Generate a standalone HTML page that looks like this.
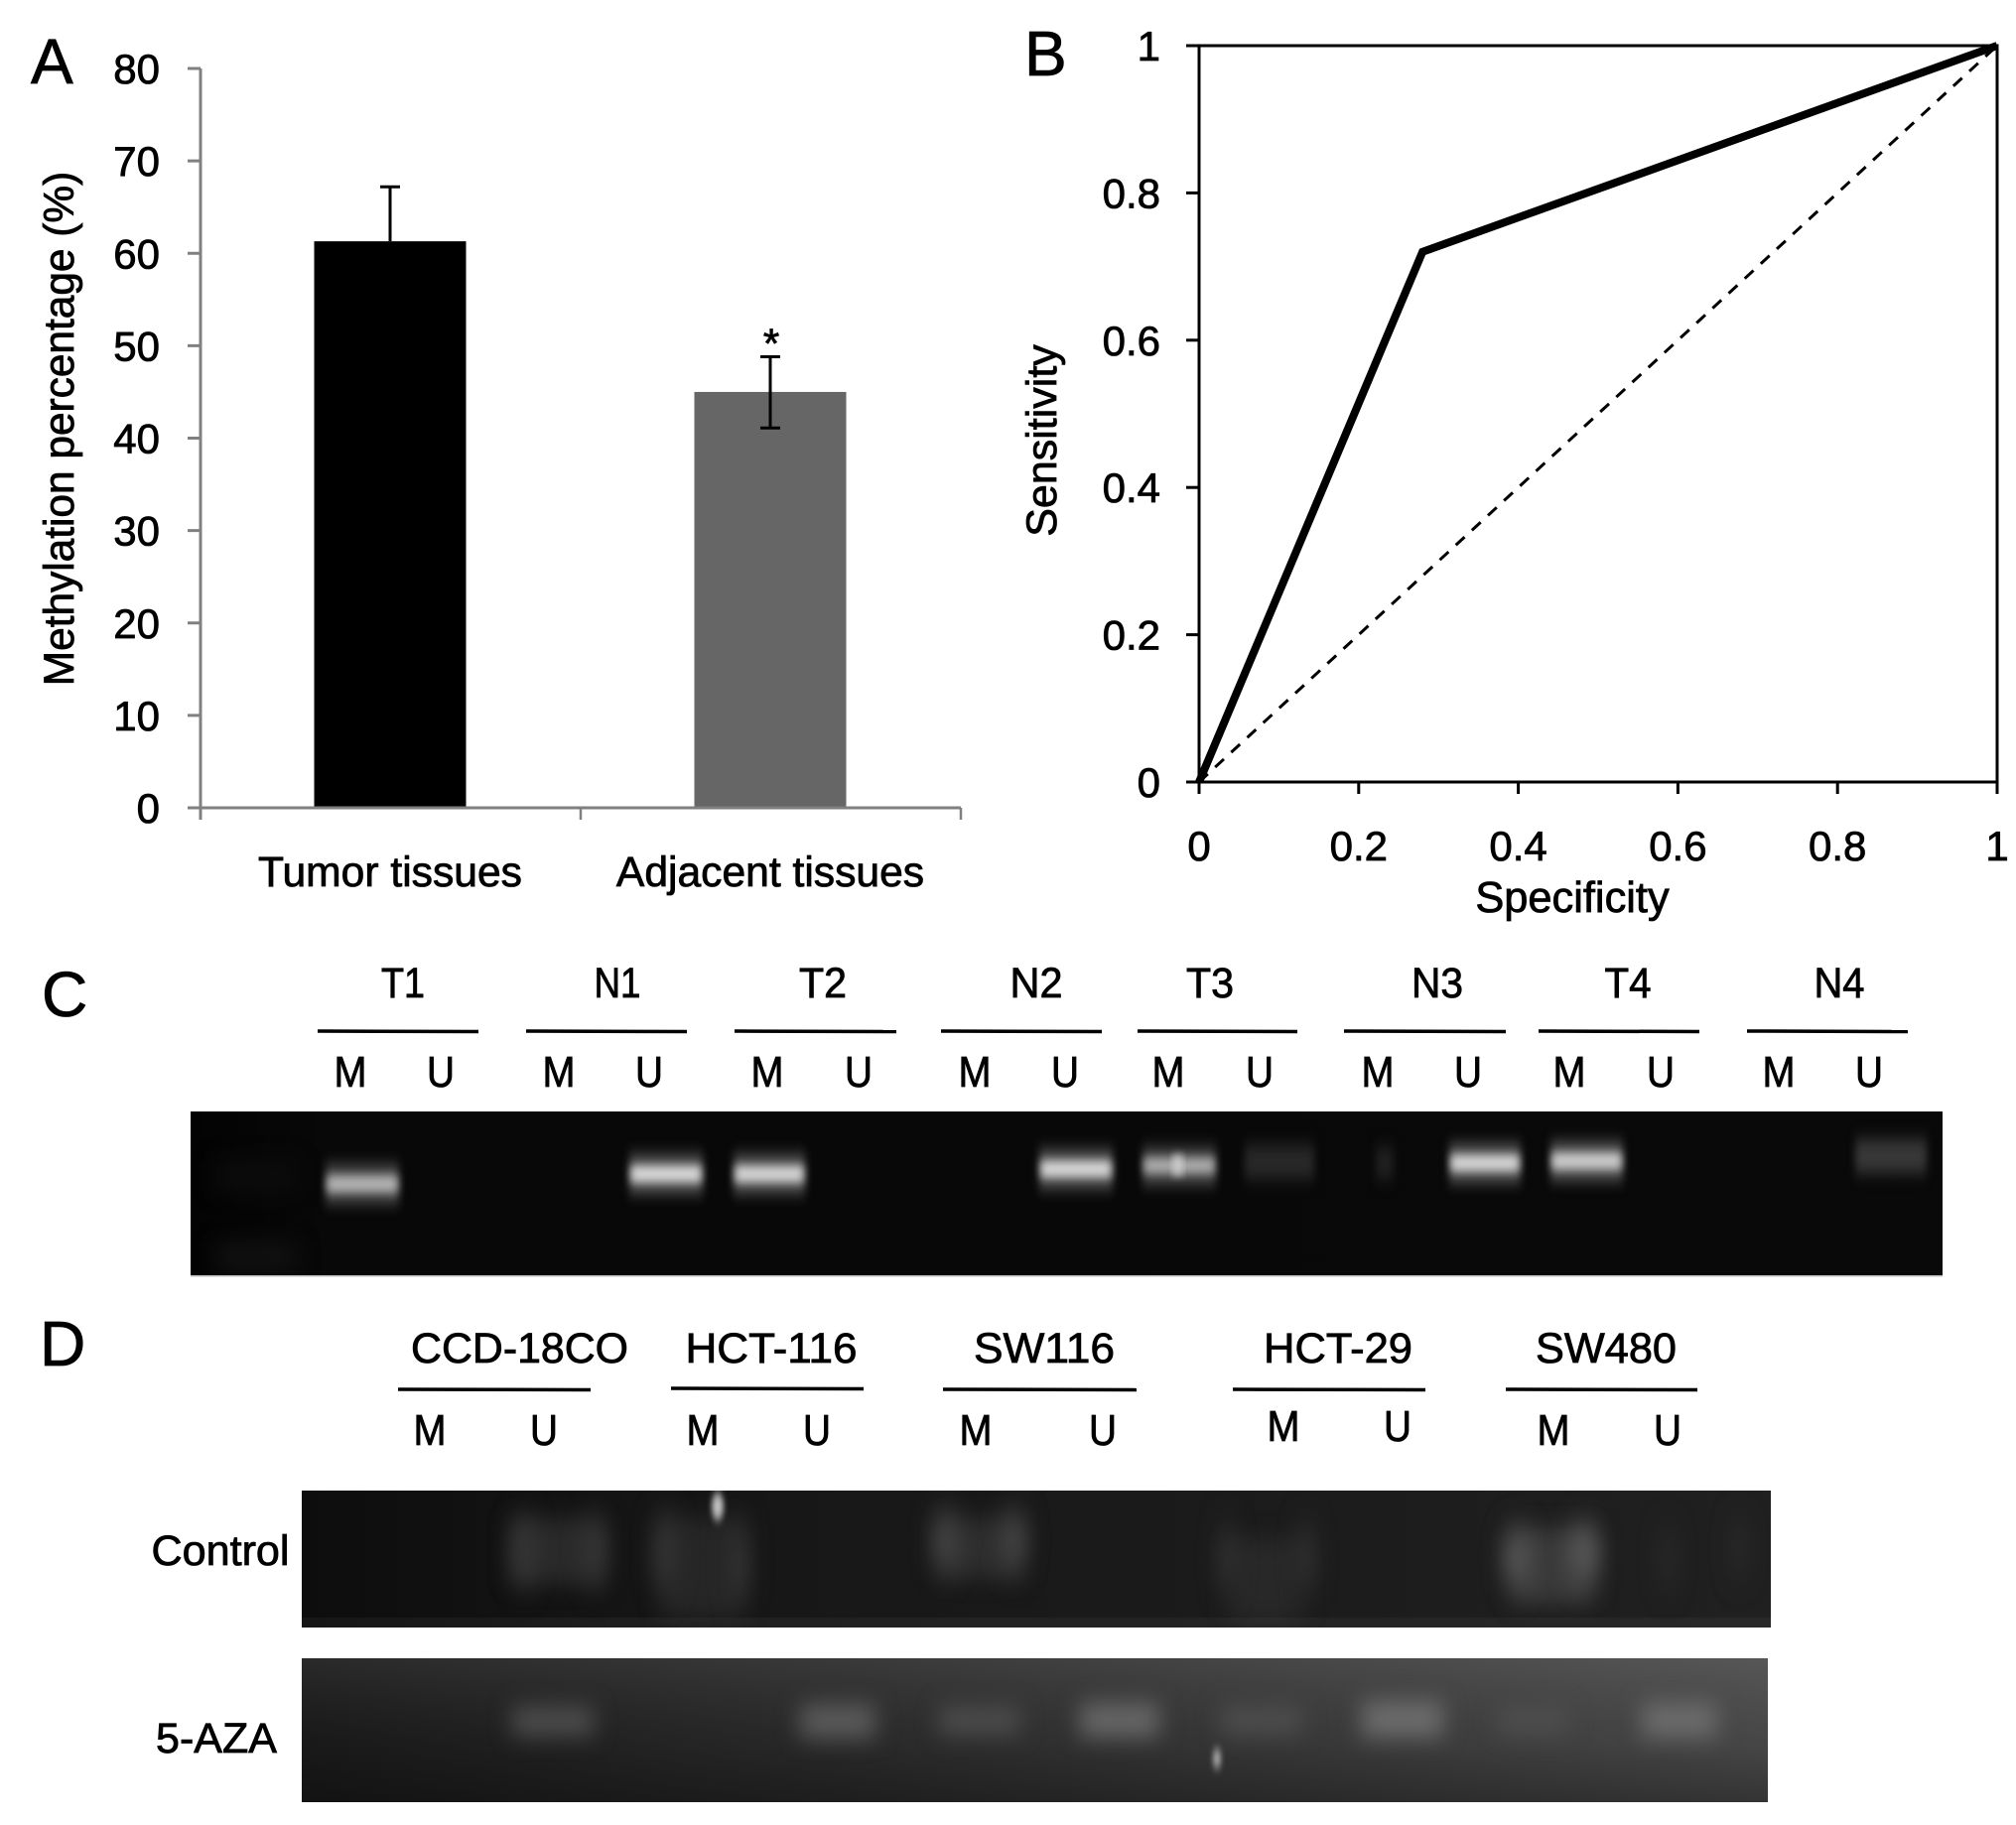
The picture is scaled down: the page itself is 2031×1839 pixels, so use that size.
<!DOCTYPE html>
<html lang="en">
<head>
<meta charset="utf-8">
<title>Methylation figure</title>
<style>
html,body{margin:0;padding:0;background:#fff;width:2031px;height:1839px;overflow:hidden}
svg{display:block}
text{font-family:"Liberation Sans",Arial,sans-serif;fill:#000;stroke:#000;stroke-width:0.8px}
</style>
</head>
<body>
<svg id="fig" xmlns="http://www.w3.org/2000/svg" width="2031" height="1839" viewBox="0 0 2031 1839">
<defs>
<filter id="halo" x="-40%" y="-150%" width="180%" height="400%" color-interpolation-filters="sRGB"><feGaussianBlur stdDeviation="4 8"/></filter>
<filter id="core" x="-40%" y="-200%" width="180%" height="500%" color-interpolation-filters="sRGB"><feGaussianBlur stdDeviation="4 4.5"/></filter>
<filter id="lobe" x="-400%" y="-150%" width="900%" height="400%" color-interpolation-filters="sRGB"><feGaussianBlur stdDeviation="11 17"/></filter>
<filter id="soft" x="-80%" y="-200%" width="260%" height="500%" color-interpolation-filters="sRGB"><feGaussianBlur stdDeviation="11 11"/></filter>
<filter id="spot" x="-300%" y="-150%" width="700%" height="400%" color-interpolation-filters="sRGB"><feGaussianBlur stdDeviation="2.6 5"/></filter>
<linearGradient id="gcbg" x1="0" y1="0" x2="1" y2="0">
<stop offset="0" stop-color="#030303"/><stop offset="0.08" stop-color="#080808"/><stop offset="1" stop-color="#090909"/>
</linearGradient>
<linearGradient id="g1bg" x1="0" y1="0" x2="1" y2="0">
<stop offset="0" stop-color="#0d0d0d"/><stop offset="0.25" stop-color="#161616"/><stop offset="1" stop-color="#202020"/>
</linearGradient>
<linearGradient id="g2h" x1="0" y1="0" x2="1" y2="0">
<stop offset="0" stop-color="#1a1a1a"/><stop offset="0.4" stop-color="#2c2c2c"/><stop offset="1" stop-color="#4a4a4a"/>
</linearGradient>
<linearGradient id="g2v" x1="0" y1="0" x2="0" y2="1">
<stop offset="0" stop-color="#fff" stop-opacity="0.07"/><stop offset="0.6" stop-color="#000" stop-opacity="0.05"/><stop offset="1" stop-color="#000" stop-opacity="0.3"/>
</linearGradient>
<clipPath id="clipC"><rect x="192" y="1120" width="1765" height="166"/></clipPath>
<clipPath id="clipD1"><rect x="304" y="1502" width="1480" height="138"/></clipPath>
<clipPath id="clipD2"><rect x="304" y="1671" width="1477" height="145"/></clipPath>
</defs>

<!-- panel letters -->
<text x="31" y="84" font-size="64">A</text>
<text x="1032" y="76" font-size="64">B</text>
<text x="42" y="1024" font-size="64">C</text>
<text x="40" y="1376" font-size="64">D</text>

<g id="chartA"></g>
<g id="chartB"></g>

<!-- panel C headings -->
<g font-size="43" text-anchor="middle">
<text x="406" y="1005" textLength="44" lengthAdjust="spacingAndGlyphs">T1</text>
<text x="622" y="1005" textLength="47" lengthAdjust="spacingAndGlyphs">N1</text>
<text x="829" y="1005" textLength="48" lengthAdjust="spacingAndGlyphs">T2</text>
<text x="1044" y="1005" textLength="53" lengthAdjust="spacingAndGlyphs">N2</text>
<text x="1219" y="1005" textLength="48" lengthAdjust="spacingAndGlyphs">T3</text>
<text x="1448" y="1005" textLength="52" lengthAdjust="spacingAndGlyphs">N3</text>
<text x="1640" y="1005" textLength="47" lengthAdjust="spacingAndGlyphs">T4</text>
<text x="1853" y="1005" textLength="51" lengthAdjust="spacingAndGlyphs">N4</text>
</g>
<g stroke="#000" stroke-width="3.5">
<line x1="320" y1="1039" x2="482" y2="1039.5"/>
<line x1="530" y1="1039" x2="692" y2="1039.5"/>
<line x1="740" y1="1039" x2="903" y2="1039.5"/>
<line x1="948" y1="1039" x2="1110" y2="1039.5"/>
<line x1="1146" y1="1039" x2="1307" y2="1039.5"/>
<line x1="1354" y1="1039" x2="1517" y2="1039.5"/>
<line x1="1550" y1="1039" x2="1712" y2="1039.5"/>
<line x1="1760" y1="1039" x2="1922" y2="1039.5"/>
</g>
<g font-size="44" text-anchor="middle">
<text x="353" y="1095" textLength="33" lengthAdjust="spacingAndGlyphs">M</text>
<text x="444" y="1095" textLength="28" lengthAdjust="spacingAndGlyphs">U</text>
<text x="563" y="1095" textLength="33" lengthAdjust="spacingAndGlyphs">M</text>
<text x="654" y="1095" textLength="28" lengthAdjust="spacingAndGlyphs">U</text>
<text x="773" y="1095" textLength="33" lengthAdjust="spacingAndGlyphs">M</text>
<text x="865" y="1095" textLength="28" lengthAdjust="spacingAndGlyphs">U</text>
<text x="982" y="1095" textLength="33" lengthAdjust="spacingAndGlyphs">M</text>
<text x="1073" y="1095" textLength="28" lengthAdjust="spacingAndGlyphs">U</text>
<text x="1177" y="1095" textLength="33" lengthAdjust="spacingAndGlyphs">M</text>
<text x="1269" y="1095" textLength="28" lengthAdjust="spacingAndGlyphs">U</text>
<text x="1388" y="1095" textLength="33" lengthAdjust="spacingAndGlyphs">M</text>
<text x="1479" y="1095" textLength="28" lengthAdjust="spacingAndGlyphs">U</text>
<text x="1581" y="1095" textLength="33" lengthAdjust="spacingAndGlyphs">M</text>
<text x="1673" y="1095" textLength="28" lengthAdjust="spacingAndGlyphs">U</text>
<text x="1792" y="1095" textLength="33" lengthAdjust="spacingAndGlyphs">M</text>
<text x="1883" y="1095" textLength="28" lengthAdjust="spacingAndGlyphs">U</text>
</g>

<!-- panel C gel -->
<g clip-path="url(#clipC)">
<rect x="192" y="1120" width="1765" height="166" fill="url(#gcbg)"/>
<rect x="218" y="1170" width="80" height="30" fill="#0c0c0c" filter="url(#soft)"/>
<rect x="218" y="1252" width="80" height="30" fill="#111" filter="url(#soft)"/>
<g><rect x="328" y="1175" width="74" height="36" fill="#5a5a5a" filter="url(#halo)"/><rect x="330" y="1185" width="70" height="16" fill="#b0b0b0" filter="url(#core)"/></g>
<g><rect x="634" y="1165" width="74" height="36" fill="#666" filter="url(#halo)"/><rect x="636" y="1175" width="70" height="16" fill="#d4d4d4" filter="url(#core)"/></g>
<g><rect x="739" y="1165" width="72" height="36" fill="#666" filter="url(#halo)"/><rect x="741" y="1175" width="68" height="16" fill="#d0d0d0" filter="url(#core)"/></g>
<g><rect x="1047" y="1160" width="74" height="36" fill="#666" filter="url(#halo)"/><rect x="1049" y="1170" width="70" height="16" fill="#d2d2d2" filter="url(#core)"/></g>
<g><rect x="1151" y="1158" width="74" height="34" fill="#585858" filter="url(#halo)"/><rect x="1153" y="1167" width="70" height="15" fill="#a8a8a8" filter="url(#core)"/><rect x="1182" y="1164" width="9" height="20" fill="#d0d0d0" filter="url(#core)"/></g>
<g><rect x="1254" y="1154" width="70" height="34" fill="#282828" filter="url(#halo)"/></g>
<g><rect x="1386" y="1156" width="18" height="32" fill="#202020" filter="url(#halo)"/></g>
<g><rect x="1460" y="1154" width="72" height="36" fill="#666" filter="url(#halo)"/><rect x="1462" y="1164" width="68" height="16" fill="#d0d0d0" filter="url(#core)"/></g>
<g><rect x="1562" y="1152" width="73" height="36" fill="#666" filter="url(#halo)"/><rect x="1564" y="1162" width="69" height="16" fill="#c8c8c8" filter="url(#core)"/></g>
<g><rect x="1869" y="1148" width="72" height="34" fill="#383838" filter="url(#halo)"/></g>
</g>
<rect x="192" y="1285" width="1765" height="1.5" fill="#bbb"/>

<!-- panel D headings -->
<g font-size="43" text-anchor="middle">
<text x="523.5" y="1373" textLength="219" lengthAdjust="spacingAndGlyphs">CCD-18CO</text>
<text x="777" y="1373" textLength="173" lengthAdjust="spacingAndGlyphs">HCT-116</text>
<text x="1052" y="1373" textLength="142" lengthAdjust="spacingAndGlyphs">SW116</text>
<text x="1348" y="1373" textLength="150" lengthAdjust="spacingAndGlyphs">HCT-29</text>
<text x="1618" y="1373" textLength="142" lengthAdjust="spacingAndGlyphs">SW480</text>
</g>
<g stroke="#000" stroke-width="3.5">
<line x1="401" y1="1400" x2="595" y2="1400.5"/>
<line x1="676" y1="1399" x2="870" y2="1399.5"/>
<line x1="950" y1="1400" x2="1145" y2="1400.5"/>
<line x1="1242" y1="1400" x2="1436" y2="1400.5"/>
<line x1="1517" y1="1400" x2="1710" y2="1400.5"/>
</g>
<g font-size="44" text-anchor="middle">
<text x="433" y="1456" textLength="33" lengthAdjust="spacingAndGlyphs">M</text>
<text x="548" y="1456" textLength="28" lengthAdjust="spacingAndGlyphs">U</text>
<text x="708" y="1456" textLength="33" lengthAdjust="spacingAndGlyphs">M</text>
<text x="823" y="1456" textLength="28" lengthAdjust="spacingAndGlyphs">U</text>
<text x="983" y="1456" textLength="33" lengthAdjust="spacingAndGlyphs">M</text>
<text x="1111" y="1456" textLength="28" lengthAdjust="spacingAndGlyphs">U</text>
<text x="1293" y="1452" textLength="33" lengthAdjust="spacingAndGlyphs">M</text>
<text x="1408" y="1452" textLength="28" lengthAdjust="spacingAndGlyphs">U</text>
<text x="1565" y="1456" textLength="33" lengthAdjust="spacingAndGlyphs">M</text>
<text x="1680" y="1456" textLength="28" lengthAdjust="spacingAndGlyphs">U</text>
</g>
<text x="222" y="1577" font-size="43" text-anchor="middle" textLength="139" lengthAdjust="spacingAndGlyphs">Control</text>
<text x="218" y="1766" font-size="43" text-anchor="middle" textLength="122" lengthAdjust="spacingAndGlyphs">5-AZA</text>

<!-- panel D control gel -->
<g clip-path="url(#clipD1)">
<rect x="304" y="1502" width="1480" height="138" fill="url(#g1bg)"/>
<g fill="#383838"><rect x="516" y="1530" width="88" height="66" fill="#2a2a2a" filter="url(#soft)"/><ellipse cx="527" cy="1563" rx="12" ry="34" filter="url(#lobe)"/><ellipse cx="600" cy="1563" rx="12" ry="34" filter="url(#lobe)"/></g>
<g fill="#363636"><rect x="668" y="1530" width="76" height="100" fill="#262626" filter="url(#soft)"/><ellipse cx="670" cy="1565" rx="12" ry="40" filter="url(#lobe)"/><ellipse cx="745" cy="1575" rx="10" ry="44" filter="url(#lobe)"/></g>
<g fill="#484848"><rect x="950" y="1530" width="74" height="60" fill="#2e2e2e" filter="url(#soft)"/><ellipse cx="952" cy="1553" rx="13" ry="30" filter="url(#lobe)"/><ellipse cx="1022" cy="1553" rx="13" ry="30" filter="url(#lobe)"/></g>
<g fill="#363636"><rect x="1240" y="1550" width="70" height="85" fill="#282828" filter="url(#soft)"/><ellipse cx="1236" cy="1570" rx="8" ry="36" filter="url(#lobe)"/><ellipse cx="1316" cy="1570" rx="8" ry="36" filter="url(#lobe)"/></g>
<g fill="#5a5a5a"><rect x="1525" y="1540" width="80" height="76" fill="#3a3a3a" filter="url(#soft)"/><ellipse cx="1528" cy="1570" rx="14" ry="28" filter="url(#lobe)"/><ellipse cx="1596" cy="1565" rx="16" ry="28" filter="url(#lobe)"/></g>
<g fill="#2e2e2e"><ellipse cx="1680" cy="1570" rx="7" ry="30" filter="url(#lobe)"/><ellipse cx="1752" cy="1560" rx="7" ry="28" filter="url(#lobe)"/></g>
<ellipse cx="723" cy="1518" rx="6" ry="14" fill="#c0c0c0" filter="url(#spot)"/>
<rect x="304" y="1630" width="1480" height="10" fill="#fff" opacity="0.04"/>
</g>

<!-- panel D 5-AZA gel -->
<g clip-path="url(#clipD2)">
<rect x="304" y="1671" width="1477" height="145" fill="url(#g2h)"/>
<rect x="304" y="1671" width="1477" height="145" fill="url(#g2v)"/>
<g fill="#4a4a4a"><rect x="516" y="1718" width="82" height="32" filter="url(#soft)"/></g>
<g fill="#585858"><rect x="806" y="1716" width="76" height="36" filter="url(#soft)"/></g>
<g fill="#4a4a4a"><rect x="946" y="1718" width="82" height="30" filter="url(#soft)"/></g>
<g fill="#646464"><rect x="1088" y="1715" width="80" height="36" filter="url(#soft)"/></g>
<g fill="#4c4c4c"><rect x="1230" y="1718" width="82" height="30" filter="url(#soft)"/></g>
<g fill="#6a6a6a"><rect x="1372" y="1713" width="82" height="38" filter="url(#soft)"/></g>
<g fill="#4e4e4e"><rect x="1510" y="1720" width="70" height="26" filter="url(#soft)"/></g>
<g fill="#6a6a6a"><rect x="1654" y="1715" width="76" height="36" filter="url(#soft)"/></g>
<ellipse cx="1226" cy="1772" rx="4" ry="10" fill="#b0b0b0" filter="url(#spot)"/>
</g>

<script>
// ---- Panel A data ----
var barCategories = ['Tumor tissues', 'Adjacent tissues'];
var barValues = [61.3, 45];
var barErrorUpper = [67.2, 48.8];
var barErrorLower = [61.3, 41.1];
var barColors = ['#000000', '#666666'];
var barSignificance = ['', '*'];
var barTicks = [0, 10, 20, 30, 40, 50, 60, 70, 80];

// ---- Panel B data ----
var rocX = [0, 0.28, 1];
var rocY = [0, 0.72, 1];
var refX = [0, 1];
var refY = [0, 1];
var rocTicks = [0, 0.2, 0.4, 0.6, 0.8, 1];

var NS = 'http://www.w3.org/2000/svg';
function make(parent, tag, attrs, txt) {
  var el = document.createElementNS(NS, tag);
  for (var k in attrs) el.setAttribute(k, attrs[k]);
  if (txt !== undefined) el.textContent = txt;
  parent.appendChild(el);
  return el;
}

// ---- Panel A ----
(function () {
  var g = document.getElementById('chartA');
  var left = 202, right = 968, top = 69, base = 814, axMax = 80;
  var AX = '#808080';
  function y(v) { return base - (v / axMax) * (base - top); }
  var slot = (right - left) / barCategories.length;
  function cx(i) { return left + slot * (i + 0.5) - 0.5 ; }
  var barW = 153;

  barValues.forEach(function (v, i) {
    var bar = make(g, 'rect', { x: cx(i) - barW / 2, y: y(v), width: barW, height: base - y(v), fill: barColors[i] });
    
    
  });

  var yAxis = make(g, 'line', { x1: left, y1: top, x2: left, y2: 826, stroke: AX, 'stroke-width': 3 });
  
  
  var xAxis = make(g, 'line', { x1: 189, y1: base, x2: right, y2: base, stroke: AX, 'stroke-width': 3 });
  
  

  barTicks.forEach(function (t) {
    var tk = make(g, 'line', { x1: 189, y1: y(t), x2: left, y2: y(t), stroke: AX, 'stroke-width': 3 });
    
    
    var lb = make(g, 'text', { x: 161, y: y(t) + 15, 'font-size': 42, 'text-anchor': 'end' }, String(t));
    
    
  });

  for (var i = 1; i <= barCategories.length; i++) {
    var xt = make(g, 'line', { x1: left + slot * i, y1: base, x2: left + slot * i, y2: 826, stroke: AX, 'stroke-width': 2.5 });
    
    
  }

  barCategories.forEach(function (c, i) {
    var lb = make(g, 'text', { x: cx(i), y: 893, 'font-size': 42.6, 'text-anchor': 'middle' }, c);
    
    

    var eg = make(g, 'g', { stroke: '#000', 'stroke-width': 3 });
    
    
    make(eg, 'line', { x1: cx(i), y1: y(barErrorUpper[i]), x2: cx(i), y2: y(barErrorLower[i]) });
    make(eg, 'line', { x1: cx(i) - 10, y1: y(barErrorUpper[i]), x2: cx(i) + 10, y2: y(barErrorUpper[i]) });
    if (barErrorLower[i] < barValues[i]) {
      make(eg, 'line', { x1: cx(i) - 10, y1: y(barErrorLower[i]), x2: cx(i) + 10, y2: y(barErrorLower[i]) });
    }
    if (barSignificance[i]) {
      var st = make(g, 'text', { x: cx(i) + 1, y: y(barErrorUpper[i]) + 1, 'font-size': 42, 'text-anchor': 'middle' }, barSignificance[i]);
      
      
    }
  });

  var title = make(g, 'text', { transform: 'translate(74,432) rotate(-90)', 'font-size': 42.4, 'text-anchor': 'middle' }, 'Methylation percentage (%)');
  
  
})();

// ---- Panel B ----
(function () {
  var g = document.getElementById('chartB');
  var x0 = 1208, x1 = 2012, y0 = 788, y1 = 46;
  function sx(v) { return x0 + v * (x1 - x0); }
  function sy(v) { return y0 - v * (y0 - y1); }
  function pts(xs, ys) { return xs.map(function (v, i) { return sx(v) + ',' + sy(ys[i]); }).join(' '); }

  var frame = make(g, 'rect', { x: x0, y: y1, width: x1 - x0, height: y0 - y1, fill: 'none', stroke: '#000', 'stroke-width': 3 });
  
  

  rocTicks.forEach(function (t) {
    var ty = make(g, 'line', { x1: 1195, y1: sy(t), x2: x0, y2: sy(t), stroke: '#000', 'stroke-width': 3 });
    
    
    var tx = make(g, 'line', { x1: sx(t), y1: y0, x2: sx(t), y2: y0 + 12, stroke: '#000', 'stroke-width': 3 });
    
    
    var ly = make(g, 'text', { x: 1169, y: sy(t) + 15, 'font-size': 42, 'text-anchor': 'end' }, String(t));
    
    
    var lx = make(g, 'text', { x: sx(t), y: 867, 'font-size': 42, 'text-anchor': 'middle' }, String(t));
    
    
  });

  var ref = make(g, 'polyline', { points: pts(refX, refY), fill: 'none', stroke: '#000', 'stroke-width': 3, 'stroke-dasharray': '12 10' });
  
  
  var roc = make(g, 'polyline', { points: pts(rocX, rocY), fill: 'none', stroke: '#000', 'stroke-width': 8, 'stroke-linejoin': 'miter' });
  
  

  var xt = make(g, 'text', { x: 1584, y: 919, 'font-size': 43.4, 'text-anchor': 'middle' }, 'Specificity');
  
  
  var yt = make(g, 'text', { transform: 'translate(1064,444) rotate(-90)', 'font-size': 43, 'text-anchor': 'middle' }, 'Sensitivity');
  
  
})();
</script>
</svg>
</body>
</html>
